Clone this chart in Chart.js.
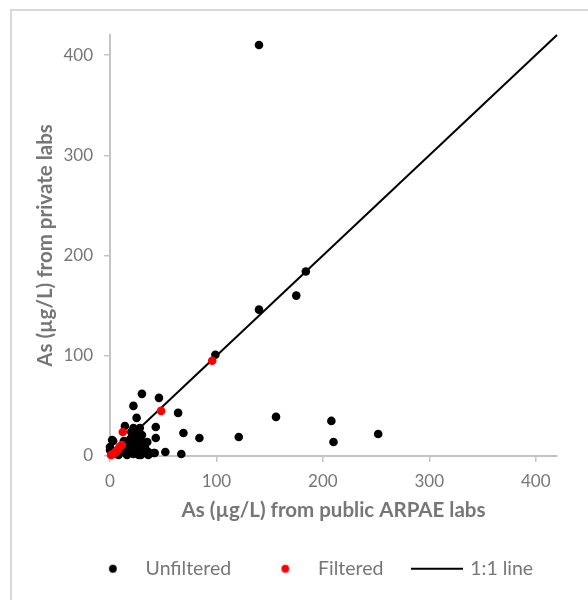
<!DOCTYPE html>
<html><head><meta charset="utf-8">
<script src="https://cdn.jsdelivr.net/npm/chart.js@4.4.1/dist/chart.umd.min.js"></script>
<style>html,body{margin:0;padding:0;background:#fff;}</style>
</head><body>
<canvas id="c" width="588" height="600"></canvas>
<script>
// ---- data ----
const unfilteredX = [140, 184, 175, 140, 99, 156, 208, 210, 252, 121, 84, 69, 64, 46, 30, 22, 25, 43, 43, 14, 22, 28, 30, 2, 3, 41, 52, 67, 19, 27, 31, 36, 42, 27, 0, 0, 17, 22, 25, 20, 19, 36, 29, 13, 10, 15, 5, 8, 20, 24, 26, 29, 22, 18, 26, 30, 33, 21, 16, 35];
const unfilteredY = [410, 184, 160, 146, 101, 39, 35, 14, 22, 19, 18, 23, 43, 58, 62, 50, 38, 29, 18, 30, 28, 28, 21, 16, 15, 3, 4, 2, 17, 13, 11, 4, 3, 1, 9, 6, 8, 2, 8, 16, 4, 1, 1, 15, 5, 3, 2, 1, 24, 22, 18, 16, 12, 10, 6, 5, 8, 20, 1, 14];
const filteredX = [96, 48, 12, 11, 9, 7, 5, 3, 1];
const filteredY = [95, 45, 24, 11, 9, 6, 4, 2, 1];
const lineX = [0, 420];
const lineY = [0, 420];
const xTicks = [0, 100, 200, 300, 400];
const yTicks = [0, 100, 200, 300, 400];
const seriesNames = ['Unfiltered', 'Filtered', '1:1 line'];
const xTitle = 'As (µg/L) from public ARPAE labs';
const yTitle = 'As (µg/L) from private labs';

const toPts = (xs, ys) => xs.map((x, i) => ({x: x, y: ys[i]}));

const FONT = 'Lato, "Open Sans", sans-serif';
const TXT = '#767676';
const AXIS = '#c4c4c4';

function dotImg(color) {
  const c = document.createElement('canvas');
  c.width = 10; c.height = 10;
  const g = c.getContext('2d');
  g.fillStyle = color; g.beginPath(); g.arc(5, 5, 3.9, 0, Math.PI * 2); g.fill();
  return c;
}
function lineImg() {
  const c = document.createElement('canvas');
  c.width = 52; c.height = 4;
  const g = c.getContext('2d');
  g.fillStyle = '#000'; g.fillRect(0, 1, 52, 2);
  return c;
}
const legendImgs = [dotImg('#000'), dotImg('#ff0000'), lineImg()];

const framePlugin = {
  id: 'frame',
  beforeDraw(chart) {
    const ctx = chart.ctx;
    ctx.save();
    ctx.strokeStyle = '#d9d9d9';
    ctx.lineWidth = 2;
    ctx.beginPath();
    ctx.moveTo(11, 600); ctx.lineTo(11, 10); ctx.lineTo(588, 10);
    ctx.stroke();
    ctx.restore();
  }
};
const legendShift = {
  id: 'legendShift',
  afterLayout(chart) {
    const lg = chart.legend;
    if (lg) { lg.left += 28; lg.right += 28; }
  }
};

new Chart(document.getElementById('c'), {
  type: 'scatter',
  data: {
    datasets: [
      { label: seriesNames[0], data: toPts(unfilteredX, unfilteredY), backgroundColor: '#000', borderColor: '#000',
        pointRadius: 4.3, pointHoverRadius: 4.3, borderWidth: 0, order: 1, clip: false },
      { label: seriesNames[1], data: toPts(filteredX, filteredY), backgroundColor: '#ff0000', borderColor: '#ff0000',
        pointRadius: 4.3, pointHoverRadius: 4.3, borderWidth: 0, order: 0, clip: false },
      { label: seriesNames[2], type: 'line', data: toPts(lineX, lineY), borderColor: '#000', backgroundColor: '#000',
        borderWidth: 2, pointRadius: 0, showLine: true, fill: false, order: 2, clip: false }
    ]
  },
  options: {
    responsive: false,
    animation: false,
    devicePixelRatio: 1,
    layout: { padding: { left: 10, top: 35, right: 31, bottom: 11.5 } },
    scales: {
      x: {
        type: 'linear', min: 0, max: 420,
        afterBuildTicks: s => { s.ticks = xTicks.map(v => ({value: v})); },
        afterFit: s => { s.height = 72; },
        grid: { drawOnChartArea: false, drawTicks: true, tickLength: 6, color: AXIS, lineWidth: 1.5 },
        border: { color: AXIS, width: 2 },
        ticks: { color: TXT, font: { family: FONT, size: 17 }, padding: 9, maxRotation: 0 },
        title: { display: true, text: xTitle, color: TXT, font: { family: FONT, size: 20.5, weight: 'bold' }, padding: { top: 0, bottom: 5 } }
      },
      y: {
        type: 'linear', min: 0, max: 420,
        afterBuildTicks: s => { s.ticks = yTicks.map(v => ({value: v})); },
        afterFit: s => { s.width = 100; },
        grid: { drawOnChartArea: false, drawTicks: true, tickLength: 6, color: AXIS, lineWidth: 1.5 },
        border: { color: AXIS, width: 2 },
        ticks: { color: TXT, font: { family: FONT, size: 17 }, padding: 11 },
        title: { display: true, text: yTitle, color: TXT, font: { family: FONT, size: 20.5, weight: 'bold' }, padding: { top: 23, bottom: 0 } }
      }
    },
    plugins: {
      tooltip: { enabled: false },
      legend: {
        position: 'bottom',
        labels: {
          usePointStyle: true,
          pointStyleWidth: 46,
          padding: 31,
          color: TXT,
          font: { family: FONT, size: 19.5 },
          generateLabels: chart => chart.data.datasets.map((d, i) => ({
            text: d.label, datasetIndex: i, pointStyle: legendImgs[i],
            fillStyle: d.backgroundColor, strokeStyle: d.borderColor, lineWidth: 0, hidden: false, fontColor: TXT
          }))
        }
      }
    }
  },
  plugins: [framePlugin, legendShift]
});
</script>
</body></html>
